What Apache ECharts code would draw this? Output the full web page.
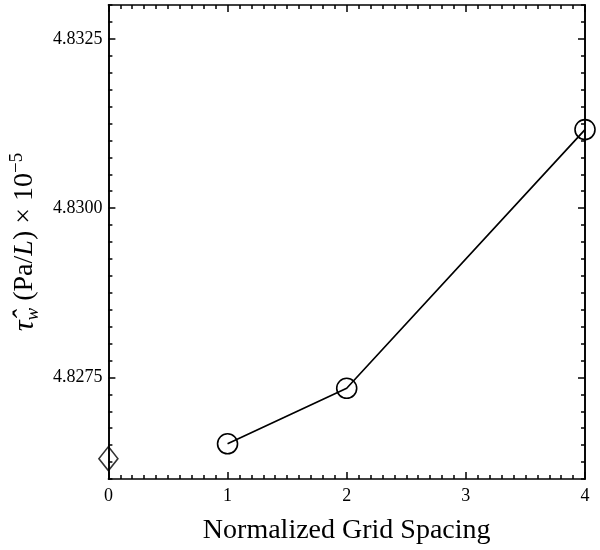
<!DOCTYPE html>
<html>
<head>
<meta charset="utf-8">
<script src="https://cdn.jsdelivr.net/npm/echarts@6/dist/echarts.min.js"></script>
<style>html,body{margin:0;padding:0;background:#fff;}#c{width:600px;height:550px;}</style>
</head>
<body>
<div id="c"></div>
<script>
var gridX = [1, 2, 4];
var wallShear = [4.82652, 4.82734, 4.83116];
var extrapX = [0];
var extrapShear = [4.82630];
var yTickLabels = [4.8275, 4.8300, 4.8325];
var xTicks = [0, 1, 2, 3, 4];

var FONT = 'Liberation Serif';
var chart = echarts.init(document.getElementById('c'));

function yAxisBase(pos, major, showLabel) {
  var a = {
    type: 'value', position: pos, min: 4.826, max: 4.833,
    axisLine: {show: true, onZero: false, lineStyle: {color: '#000', width: 1.6}},
    splitLine: {show: false},
    axisTick: {show: true, inside: true, length: major ? 7 : 4, lineStyle: {color: '#000', width: 1.5}},
    axisLabel: {show: false}
  };
  if (major) {
    a.axisTick.customValues = yTickLabels;
    a.axisLabel = {show: showLabel, customValues: yTickLabels, fontFamily: FONT, fontSize: 18, color: '#000', margin: 6,
      formatter: function (v) { return Number(v).toFixed(4); }};
  } else {
    a.interval = 0.00025;
  }
  return a;
}

function xAxisBase(pos, showLabel) {
  return {
    type: 'value', position: pos, min: 0, max: 4, interval: 1,
    axisLine: {show: true, onZero: false, lineStyle: {color: '#000', width: 1.6}},
    splitLine: {show: false},
    axisTick: {show: true, inside: true, length: 7, lineStyle: {color: '#000', width: 1.5}},
    minorTick: {show: true, splitNumber: 10, length: 4, lineStyle: {color: '#000', width: 1.5}},
    axisLabel: {show: showLabel, fontFamily: FONT, fontSize: 18, color: '#000', margin: 8,
      customValues: xTicks}
  };
}

var xBottom = xAxisBase('bottom', true);
xBottom.name = 'Normalized Grid Spacing';
xBottom.nameLocation = 'middle';
xBottom.nameGap = 38;
xBottom.nameTextStyle = {fontFamily: FONT, fontSize: 28, color: '#000'};

var yLeft = yAxisBase('left', true, true);
yLeft.name = '{t|τ̂}{sub|w}{n| (Pa/}{i|L}{n|) × 10}{sup|−5}';
yLeft.nameLocation = 'middle';
yLeft.nameRotate = 90;
yLeft.nameGap = 58;
yLeft.nameTextStyle = {
  fontFamily: FONT, fontSize: 28, color: '#000',
  rich: {
    t: {fontFamily: FONT, fontSize: 30, fontStyle: 'italic', color: '#000', lineHeight: 34},
    n: {fontFamily: FONT, fontSize: 28, color: '#000', lineHeight: 34},
    i: {fontFamily: FONT, fontSize: 28, fontStyle: 'italic', color: '#000', lineHeight: 34},
    sub: {fontFamily: FONT, fontSize: 19, fontStyle: 'italic', color: '#000', lineHeight: 18, verticalAlign: 'bottom'},
    sup: {fontFamily: FONT, fontSize: 19, color: '#000', lineHeight: 18, verticalAlign: 'top'}
  }
};

chart.setOption({
  animation: false,
  backgroundColor: '#fff',
  grid: {left: 106, right: 15, top: 5, bottom: 67, containLabel: false},
  xAxis: [xBottom, xAxisBase('top', false)],
  yAxis: [yLeft, yAxisBase('left', false, false), yAxisBase('right', true, false), yAxisBase('right', false, false)],
  series: [
    {
      type: 'line', xAxisIndex: 0, yAxisIndex: 0,
      data: gridX.map(function (x, i) { return [x, wallShear[i]]; }),
      symbol: 'circle', symbolSize: 20, showSymbol: true,
      lineStyle: {color: '#000', width: 1.7},
      itemStyle: {color: 'rgba(255,255,255,0)', borderColor: '#000', borderWidth: 1.6},
      z: 3
    },
    {
      type: 'scatter', xAxisIndex: 0, yAxisIndex: 0,
      data: extrapX.map(function (x, i) { return [x, extrapShear[i]]; }),
      symbol: 'diamond', symbolSize: [19, 24],
      itemStyle: {color: 'rgba(255,255,255,0)', borderColor: '#000', borderWidth: 1.6},
      z: 3
    }
  ]
});
</script>
</body>
</html>
